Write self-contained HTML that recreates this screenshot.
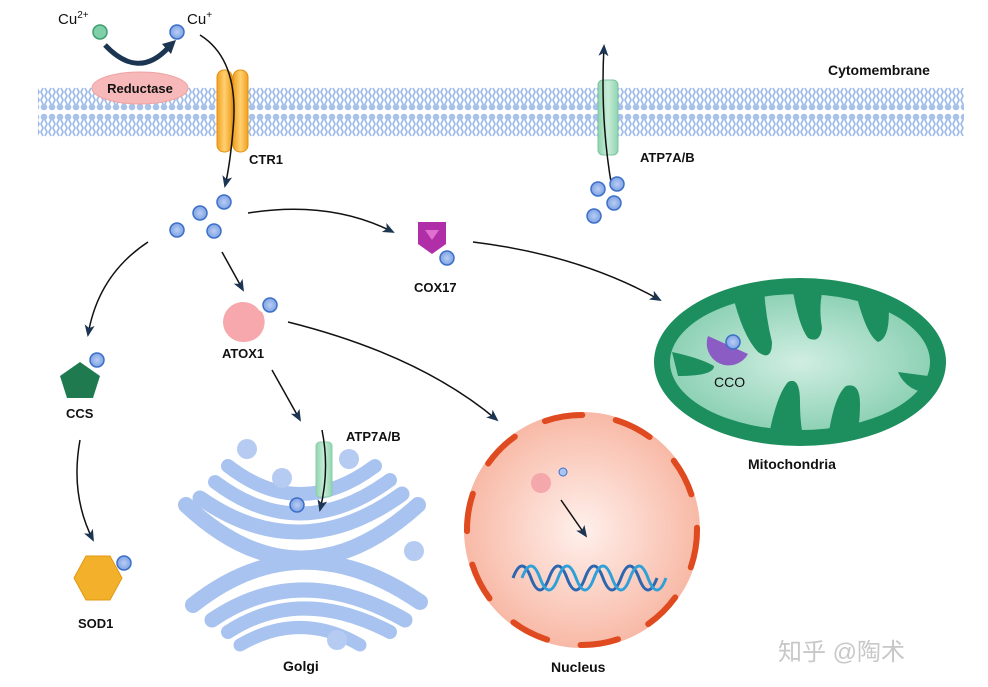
<!DOCTYPE html>
<html><head><meta charset="utf-8"><style>
body{margin:0;background:#fff}
svg{display:block}
text{font-family:"Liberation Sans",Arial,sans-serif;font-weight:bold;font-size:14px;fill:#111}
</style></head><body>
<svg width="988" height="687" viewBox="0 0 988 687" xmlns="http://www.w3.org/2000/svg">
<defs>
<marker id="ar" markerWidth="12" markerHeight="10" refX="10" refY="5" orient="auto" markerUnits="userSpaceOnUse">
<path d="M0,0 L12,5 L0,10 L3,5z" fill="#1b3552"/></marker>
<pattern id="lip" width="8" height="56" patternUnits="userSpaceOnUse">
<circle cx="4" cy="5" r="3.3" fill="#a9c2ec"/>
<path d="M3,8 l-2,4 2,4 -2,4 2,4 M5,8 l2,4 -2,4 2,4 -2,4" stroke="#9fbbe8" fill="none" stroke-width="1.7"/>
<path d="M3,48 l-2,-4 2,-4 -2,-4 2,-4 M5,48 l2,-4 -2,-4 2,-4 -2,-4" stroke="#9fbbe8" fill="none" stroke-width="1.7"/>
<circle cx="4" cy="51" r="3.3" fill="#a9c2ec"/>
</pattern>
<radialGradient id="ion"><stop offset="0" stop-color="#b8cdf4"/><stop offset="1" stop-color="#7fa3e4"/></radialGradient>
<radialGradient id="nuc"><stop offset="0" stop-color="#fff0ec"/><stop offset="1" stop-color="#f8b9a6"/></radialGradient>
<radialGradient id="mit"><stop offset="0" stop-color="#d0eee2"/><stop offset="1" stop-color="#8fd2b6"/></radialGradient>
<linearGradient id="org" x1="0" x2="1"><stop offset="0" stop-color="#f0a020"/><stop offset=".5" stop-color="#ffd070"/><stop offset="1" stop-color="#f0a020"/></linearGradient>
<linearGradient id="grn" x1="0" x2="1"><stop offset="0" stop-color="#8fd4b0"/><stop offset=".5" stop-color="#c8ecd8"/><stop offset="1" stop-color="#8fd4b0"/></linearGradient>
<g id="cu"><circle r="7" fill="url(#ion)" stroke="#3c6fc8" stroke-width="1.5"/></g>
</defs>

<!-- membrane -->
<rect x="38" y="82" width="926" height="56" fill="url(#lip)"/>
<text x="828" y="75">Cytomembrane</text>

<!-- Cu -->
<text x="58" y="24" style="font-weight:normal;font-size:15px">Cu<tspan dy="-6" font-size="10">2+</tspan></text>
<circle cx="100" cy="32" r="7" fill="#7fd0a8" stroke="#3aa070" stroke-width="1.5"/>
<text x="187" y="24" style="font-weight:normal;font-size:15px">Cu<tspan dy="-6" font-size="10">+</tspan></text>
<use href="#cu" x="177" y="32"/>
<path d="M105,45 Q138,80 168,48" stroke="#1b3552" stroke-width="5" fill="none"/>
<path d="M162,44 L176,40 L171,54z" fill="#1b3552"/>
<ellipse cx="140" cy="88" rx="48" ry="16" fill="#f6b8b8" stroke="#f0a0a0"/>
<text x="140" y="93" text-anchor="middle" style="font-size:13px">Reductase</text>

<!-- CTR1 -->
<rect x="217" y="70" width="15" height="82" rx="7" fill="url(#org)" stroke="#e39010"/>
<rect x="233" y="70" width="15" height="82" rx="7" fill="url(#org)" stroke="#e39010"/>
<text x="249" y="164" style="font-size:13px">CTR1</text>
<path d="M200,35 Q240,60 233,130 Q230,165 225,186" stroke="#111" stroke-width="1.5" fill="none" marker-end="url(#ar)"/>

<!-- ATP7A/B membrane -->
<rect x="598" y="80" width="20" height="75" rx="5" fill="url(#grn)" stroke="#7cc4a0"/>
<path d="M612,188 Q600,120 604,46" stroke="#111" stroke-width="1.5" fill="none" marker-end="url(#ar)"/>
<text x="640" y="162" style="font-size:13px">ATP7A/B</text>
<use href="#cu" x="598" y="189"/><use href="#cu" x="617" y="184"/><use href="#cu" x="594" y="216"/><use href="#cu" x="614" y="203"/>

<!-- cluster -->
<use href="#cu" x="224" y="202"/><use href="#cu" x="200" y="213"/><use href="#cu" x="214" y="231"/><use href="#cu" x="177" y="230"/>

<path d="M248,213 Q330,200 393,232" stroke="#111" stroke-width="1.5" fill="none" marker-end="url(#ar)"/>
<path d="M148,242 Q98,275 88,335" stroke="#111" stroke-width="1.5" fill="none" marker-end="url(#ar)"/>
<path d="M222,252 L243,290" stroke="#111" stroke-width="1.5" fill="none" marker-end="url(#ar)"/>

<!-- COX17 -->
<path d="M418,222 L446,222 L446,244 L432,254 L418,244z" fill="#b02fa8"/>
<path d="M425,230 L439,230 L432,240z" fill="#e070d0"/>
<use href="#cu" x="447" y="258"/>
<text x="414" y="292" style="font-size:13px">COX17</text>
<path d="M473,242 Q580,255 660,300" stroke="#111" stroke-width="1.5" fill="none" marker-end="url(#ar)"/>

<!-- ATOX1 -->
<path d="M243,302 L262,312 A20,20 0 1 1 243,302z" fill="#f7a8ac"/>
<circle cx="243" cy="322" r="20" fill="#f7a8ac"/>
<use href="#cu" x="270" y="305"/>
<text x="222" y="358" style="font-size:13px">ATOX1</text>
<path d="M288,322 Q420,355 497,420" stroke="#111" stroke-width="1.5" fill="none" marker-end="url(#ar)"/>
<path d="M272,370 L300,420" stroke="#111" stroke-width="1.5" fill="none" marker-end="url(#ar)"/>

<!-- CCS -->
<path d="M80,362 L100,376 L93,398 L67,398 L60,376z" fill="#1f7a50"/>
<use href="#cu" x="97" y="360"/>
<text x="66" y="418" style="font-size:13px">CCS</text>
<path d="M80,440 Q70,495 93,540" stroke="#111" stroke-width="1.5" fill="none" marker-end="url(#ar)"/>

<!-- SOD1 -->
<path d="M86,556 L110,556 L122,578 L110,600 L86,600 L74,578z" fill="#f3b02a" stroke="#e09810"/>
<use href="#cu" x="124" y="563"/>
<text x="78" y="628" style="font-size:13px">SOD1</text>

<!-- Golgi -->
<g stroke="#a9c3f0" stroke-linecap="round" fill="none">
<path d="M228,466 Q300,522 375,466" stroke-width="14"/>
<path d="M215,482 Q300,546 390,480" stroke-width="14"/>
<path d="M200,498 Q300,568 402,494" stroke-width="15"/>
<path d="M186,505 Q300,612 418,505" stroke-width="16"/>
<path d="M193,605 Q300,520 420,602" stroke-width="16"/>
<path d="M212,620 Q300,560 405,620" stroke-width="15"/>
<path d="M228,632 Q300,585 390,632" stroke-width="14"/>
<path d="M240,645 Q300,610 360,645" stroke-width="13"/>
</g>
<g fill="#b5cbf2"><circle cx="247" cy="449" r="10"/><circle cx="349" cy="459" r="10"/><circle cx="282" cy="478" r="10"/><circle cx="414" cy="551" r="10"/><circle cx="337" cy="640" r="10"/></g>
<rect x="316" y="442" width="16" height="55" rx="4" fill="url(#grn)" stroke="#8bcca8"/>
<use href="#cu" x="297" y="505"/>
<path d="M322,430 Q330,470 320,510" stroke="#111" stroke-width="1.5" fill="none" marker-end="url(#ar)"/>
<text x="346" y="441" style="font-size:13px">ATP7A/B</text>
<text x="283" y="671">Golgi</text>

<!-- Nucleus -->
<circle cx="582" cy="530" r="118" fill="url(#nuc)"/>
<circle cx="582" cy="530" r="115" fill="none" stroke="#e04a20" stroke-width="6" stroke-dasharray="38 34" stroke-linecap="round"/>
<circle cx="541" cy="483" r="10" fill="#f5a8ac"/>
<circle cx="563" cy="472" r="4" fill="#a9c4f2" stroke="#3c6fc8"/>
<path d="M561,500 L586,536" stroke="#111" stroke-width="1.5" marker-end="url(#ar)"/>
<path d="M513,578 q9,-24 18,0 t18,0 t18,0 t18,0 t18,0 t18,0 t18,0 t18,0" stroke="#2c66b0" stroke-width="3" fill="none"/>
<path d="M522,578 q9,-24 18,0 t18,0 t18,0 t18,0 t18,0 t18,0 t18,0 t18,0" stroke="#30a0d8" stroke-width="3" fill="none"/>
<text x="551" y="672">Nucleus</text>

<!-- Mitochondria -->
<ellipse cx="800" cy="362" rx="146" ry="84" fill="#1d8f5e"/>
<ellipse cx="800" cy="362" rx="130" ry="68" fill="url(#mit)"/>
<g fill="#1d8f5e">
<path d="M732,292 Q742,335 758,352 Q772,362 772,342 Q766,318 764,290z"/>
<path d="M792,285 Q798,325 808,338 Q820,344 822,328 Q818,305 824,285z"/>
<path d="M855,290 Q866,335 878,342 Q892,338 888,296z"/>
<path d="M768,440 Q776,396 788,382 Q800,376 800,402 Q800,425 804,440z"/>
<path d="M828,438 Q834,396 846,386 Q860,382 860,404 Q860,425 856,436z"/>
<path d="M672,352 Q700,358 714,366 Q714,376 678,376z"/>
<path d="M898,372 Q905,388 922,392 L928,376z"/>
</g>
<path d="M708,336 A22,22 0 0 0 748,354 L708,336z" fill="#8a5cc4"/>
<use href="#cu" x="733" y="342"/>
<text x="714" y="387" style="font-weight:normal;font-size:14px">CCO</text>
<text x="748" y="469">Mitochondria</text>

<text x="778" y="660" style="font-weight:normal;font-size:24px;fill:#c8c8c8;font-family:'Liberation Sans','Noto Sans CJK SC',sans-serif">知乎 @陶术</text>
</svg>
</body></html>
